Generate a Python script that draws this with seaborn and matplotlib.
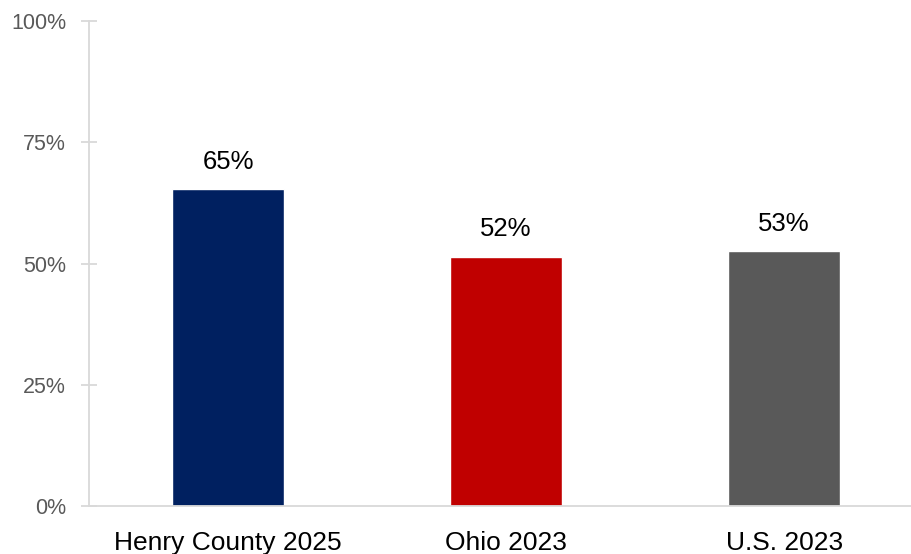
import matplotlib.pyplot as plt
import seaborn as sns
from matplotlib.ticker import PercentFormatter

categories = ["Henry County 2025", "Ohio 2023", "U.S. 2023"]
values = [65.4, 51.4, 52.6]
labels = ["65%", "52%", "53%"]
colors = ["#002060", "#C00000", "#595959"]


def main():
    sns.set_style("white")
    plt.rcParams["font.family"] = ["Liberation Sans", "DejaVu Sans"]

    fig = plt.figure(figsize=(9.12, 5.54), dpi=100)
    ax = fig.add_axes([89 / 912, 48 / 554, 823 / 912, 485 / 554])

    sns.barplot(x=categories, y=values, hue=categories, palette=colors,
                width=0.403, legend=False, saturation=1, ax=ax)

    # подписи над столбцами
    for i, (v, lab) in enumerate(zip(values, labels)):
        ax.annotate(lab, (i, v), xytext=(0, 11), textcoords="offset points",
                    ha="center", va="bottom", fontsize=18.5, color="black")

    ax.set_ylim(0, 100)
    ax.set_xlim(-0.5, 2.46)
    ax.set_yticks([0, 25, 50, 75, 100])
    ax.yaxis.set_major_formatter(PercentFormatter(decimals=0))

    for side in ["top", "right"]:
        ax.spines[side].set_visible(False)
    for side in ["left", "bottom"]:
        ax.spines[side].set_color("#D9D9D9")
        ax.spines[side].set_linewidth(1.3)

    ax.tick_params(axis="y", left=True, direction="inout", length=11, width=1.3,
                   color="#D9D9D9", labelsize=15.5, labelcolor="#595959", pad=11)
    ax.tick_params(axis="x", bottom=False, length=0, labelsize=19,
                   labelcolor="black", pad=18)
    ax.set_xlabel("")
    ax.set_ylabel("")

    fig.savefig("out.png", dpi=100)
    plt.close(fig)


if __name__ == "__main__":
    main()
